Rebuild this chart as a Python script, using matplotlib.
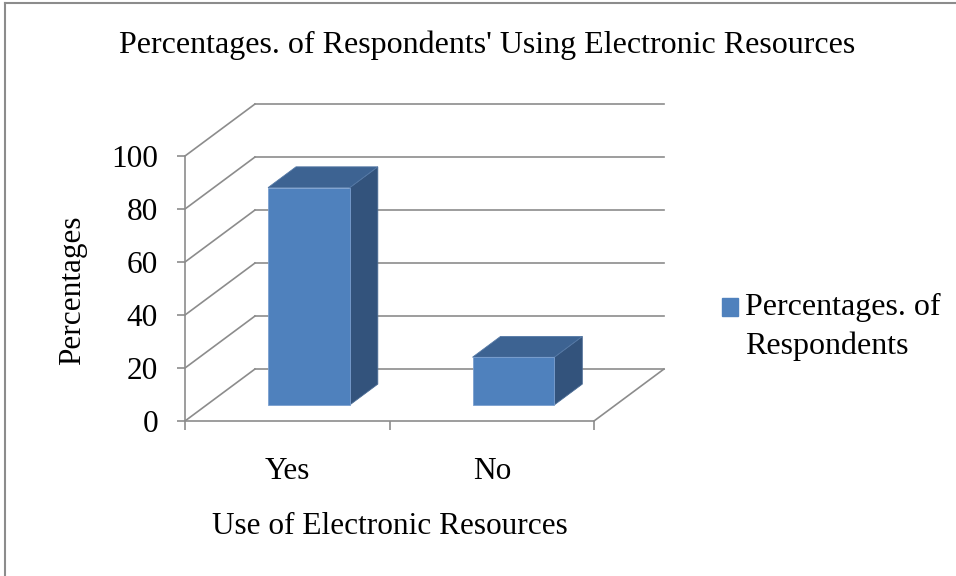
"""Percentages of respondents using electronic resources: Excel-style 3-D column chart."""
import matplotlib
matplotlib.use("Agg")
import matplotlib.pyplot as plt
from matplotlib.lines import Line2D
from matplotlib.patches import Patch

plt.rcParams["font.family"] = ["Liberation Serif", "DejaVu Serif"]

TITLE = "Percentages. of Respondents' Using Electronic Resources"
CATEGORIES = ["Yes", "No"]
PERCENTAGES = [82, 18]
Y_TICKS = [0, 20, 40, 60, 80, 100]
SERIES_LABEL = "Percentages. of\nRespondents"
X_LABEL = "Use of Electronic Resources"
Y_LABEL = "Percentages"

FRONT = "#4f81bd"
TOP = "#3d6392"
SIDE = "#33537c"
GRID = "#8c8c8c"

# oblique depth (data units) of the full floor, and where bars sit in it
DEPTH_X, DEPTH_Y = 0.342, 19.6
BAR_D0, BAR_D1 = 0.31, 0.71
BAR_W = 0.4

W, H = 956, 576
PX_CAT, PX_PCT = 204.5, 2.65
XLIM, YLIM = (-0.5, 1.85), (0, 121)


def main():
    fig = plt.figure(figsize=(W / 100, H / 100), dpi=100)
    ax = fig.add_axes([185 / W, (H - 421) / H,
                       (XLIM[1] - XLIM[0]) * PX_CAT / W, YLIM[1] * PX_PCT / H])
    ax.set_xlim(*XLIM)
    ax.set_ylim(*YLIM)
    ax.patch.set_visible(False)

    n = len(CATEGORIES)
    left, right = -0.5, n - 0.5
    # side wall, back wall grid, floor
    for v in Y_TICKS:
        ax.plot([left, left + DEPTH_X], [v, v + DEPTH_Y], color=GRID, lw=1.2,
                zorder=1, clip_on=False)
        ax.plot([left + DEPTH_X, right + DEPTH_X], [v + DEPTH_Y] * 2,
                color=GRID, lw=1.2, zorder=1, clip_on=False)
    ax.plot([right, right + DEPTH_X], [0, DEPTH_Y], color=GRID, lw=1.2,
            zorder=1, clip_on=False)

    # bars
    dx0, dy0 = BAR_D0 * DEPTH_X, BAR_D0 * DEPTH_Y
    ddx, ddy = (BAR_D1 - BAR_D0) * DEPTH_X, (BAR_D1 - BAR_D0) * DEPTH_Y
    for i, v in enumerate(PERCENTAGES):
        xl, xr = i - BAR_W / 2 + dx0, i + BAR_W / 2 + dx0
        base, top = dy0, dy0 + v
        ax.fill([xr, xr + ddx, xr + ddx, xr],
                [base, base + ddy, top + ddy, top],
                color=SIDE, ec="#4a6b94", lw=0.6, zorder=3)
        ax.fill([xl, xr, xr + ddx, xl + ddx],
                [top, top, top + ddy, top + ddy],
                color=TOP, ec="#5579a6", lw=0.6, zorder=3)
        ax.fill([xl, xr, xr, xl], [base, base, top, top],
                color=FRONT, ec="#7a9fcf", lw=0.6, zorder=4)

    for s in ("top", "right"):
        ax.spines[s].set_visible(False)
    ax.spines["left"].set_bounds(0, 100)
    ax.spines["bottom"].set_bounds(left, right)
    for s in ("left", "bottom"):
        ax.spines[s].set_color(GRID)
        ax.spines[s].set_linewidth(1.2)

    ax.set_yticks(Y_TICKS)
    ax.tick_params(axis="y", labelsize=22.5, length=6, width=1.2,
                   color=GRID, pad=13.5)
    ax.set_xticks([left + k for k in range(n + 1)])
    ax.set_xticklabels([])
    ax.set_xticks(range(n), minor=True)
    ax.set_xticklabels(CATEGORIES, minor=True)
    ax.tick_params(axis="x", which="major", length=6.5, width=1.2, color=GRID)
    ax.tick_params(axis="x", which="minor", length=0, labelsize=22.5, pad=26)

    ax.set_xlabel(X_LABEL, fontsize=22.5)
    ax.xaxis.set_label_coords((390 - 185) / ((XLIM[1] - XLIM[0]) * PX_CAT),
                              -(527 - 421) / (YLIM[1] * PX_PCT))
    ax.xaxis.label.set_va("center")
    ax.set_ylabel(Y_LABEL, fontsize=22.5)
    ax.yaxis.set_label_coords(-(185 - 73) / ((XLIM[1] - XLIM[0]) * PX_CAT),
                              (421 - 290) / (YLIM[1] * PX_PCT))
    ax.yaxis.label.set_va("center")

    fig.text(487 / W, 1 - 45 / H, TITLE, ha="center", va="center", fontsize=23)

    leg = fig.legend(handles=[Patch(color=FRONT, label=SERIES_LABEL)],
                     loc="upper left", bbox_to_anchor=(722 / W, 1 - 293 / H),
                     frameon=False, fontsize=23, handlelength=0.5,
                     handleheight=0.5, handletextpad=0.22, borderpad=0,
                     borderaxespad=0)
    leg.get_texts()[0].set_linespacing(1.4)
    # Excel puts the key next to the first line of a wrapped entry
    box = leg.legend_handles[0]
    box.set_y(box.get_y() + 13.7)

    # chart frame (left and top edges visible)
    fig.add_artist(Line2D([5 / W, 5 / W], [0, 1 - 3 / H], color=GRID, lw=1.5))
    fig.add_artist(Line2D([5 / W, 1], [1 - 3 / H, 1 - 3 / H], color=GRID, lw=1.5))

    fig.savefig("out.png", dpi=100)
    plt.close(fig)


if __name__ == "__main__":
    main()
